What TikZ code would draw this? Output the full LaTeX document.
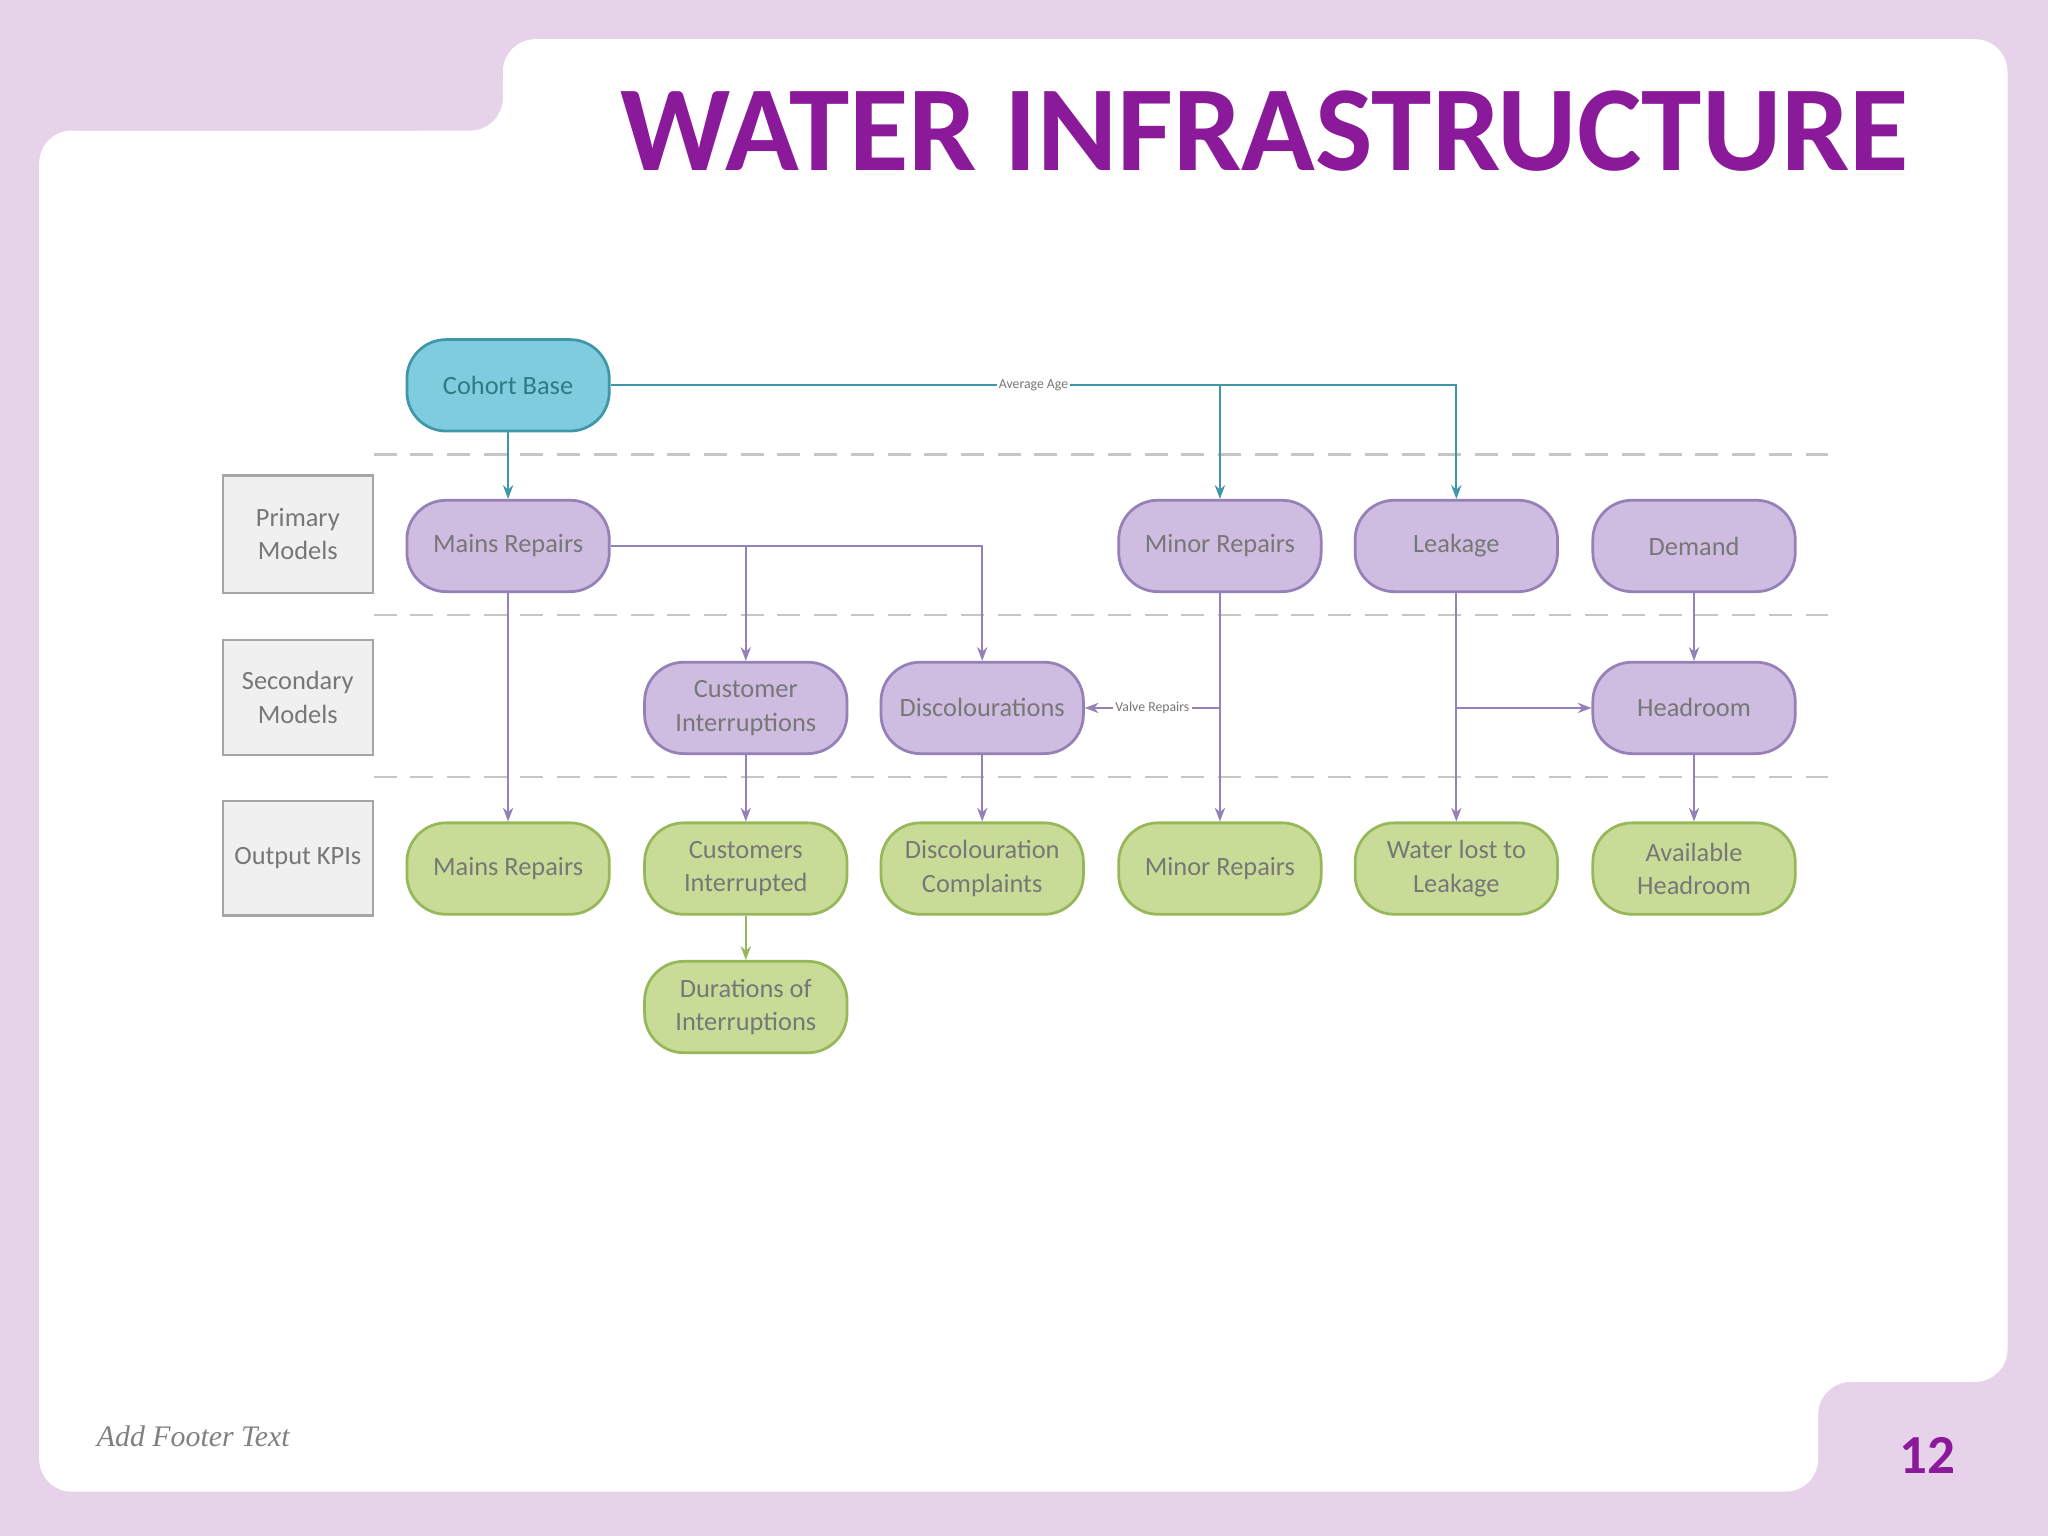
\documentclass[tikz,border=0pt]{standalone}
\usepackage{fontspec}
\setmainfont{Carlito}
\usetikzlibrary{arrows.meta,positioning}
\definecolor{lilac}{HTML}{E6D3EA}
\definecolor{titlepurple}{HTML}{8B1A9B}
\definecolor{tealfill}{HTML}{7FCCDE}
\definecolor{tealline}{HTML}{3F97A8}
\definecolor{purfill}{HTML}{CEBDE0}
\definecolor{purline}{HTML}{9580B8}
\definecolor{grnfill}{HTML}{C9DC97}
\definecolor{grnline}{HTML}{97B85A}
\definecolor{txtgray}{HTML}{777777}
\begin{document}
\begin{tikzpicture}[x=0.02cm,y=-0.02cm,
    model/.style={rectangle, rounded corners=0.6cm, draw, line width=1.2pt, minimum width=3.1cm, minimum height=1.4cm, align=center, text=txtgray, font=\fontsize{11.5}{14.5}\selectfont},
    cohort/.style={model, fill=tealfill, draw=tealline, text=tealline!80!black},
    primary/.style={model, fill=purfill, draw=purline},
    output/.style={model, fill=grnfill, draw=grnline},
    level/.style={rectangle, draw=gray!70, line width=1pt, fill=gray!12, minimum width=2.3cm, align=center, text=txtgray, font=\fontsize{11.5}{14.5}\selectfont},
    tarrow/.style={-{Stealth[length=6pt]}, tealline, line width=0.8pt},
    parrow/.style={-{Stealth[length=6pt]}, purline, line width=0.8pt},
    garrow/.style={-{Stealth[length=6pt]}, grnline, line width=0.8pt},
    sep/.style={dashed, gray!45, line width=1pt, dash pattern=on 10pt off 6pt},
    tiny/.style={font=\fontsize{6}{7}\selectfont, text=txtgray, fill=white, inner sep=1pt}
]
% slide background
\fill[lilac] (0,0) rectangle (1568,1176);
\fill[white, rounded corners=0.5cm] (30,100) -- (30,1142) -- (1392,1142) -- (1392,1058)
  -- (1537,1058) -- (1537,30) -- (385,30) -- (385,100) -- cycle;
\fill[lilac, rounded corners=0.8cm] (20,20) -- (385,20) -- (385,60) -- (355,100) -- (20,100) -- cycle;
\fill[lilac] (20,20) rectangle (385,60);
\node[anchor=east, text=titlepurple, font=\fontsize{53}{60}\selectfont\bfseries] (title) at (1468,100) {WATER INFRASTRUCTURE};
\node[anchor=west, text=gray, font=\fontsize{13}{15}\selectfont\itshape\fontspec{Liberation Serif}] (footer) at (68,1100) {Add Footer Text};
\node[text=titlepurple, font=\fontsize{24}{28}\selectfont\bfseries] (page) at (1476,1114) {12};

% level separators
\foreach \yy in {348,471,595} \draw[sep] (286,\yy) -- (1400,\yy);

% level labels
\node[level, minimum height=1.8cm] (lprim) at (228,409) {Primary\\Models};
\node[level, minimum height=1.76cm] (lsec) at (228,534) {Secondary\\Models};
\node[level, minimum height=1.76cm] (lout) at (228,657) {Output KPIs};

% models
\node[cohort] (cohort) at (389,295) {Cohort Base};
\node[primary] (mains) at (389,418) {Mains Repairs};
\node[primary] (minor) at (934,418) {Minor Repairs};
\node[primary] (leak) at (1115,418) {Leakage};
\node[primary] (demand) at (1297,418) {Demand};
\node[primary] (custint) at (571,542) {Customer\\Interruptions};
\node[primary] (discol) at (752,542) {Discolourations};
\node[primary] (head) at (1297,542) {Headroom};

% output KPIs
\node[output] (omains) at (389,665) {Mains Repairs};
\node[output] (ocust) at (571,665) {Customers\\Interrupted};
\node[output] (odisc) at (752,665) {Discolouration\\Complaints};
\node[output] (ominor) at (934,665) {Minor Repairs};
\node[output] (owater) at (1115,665) {Water lost to\\Leakage};
\node[output] (ohead) at (1297,665) {Available\\Headroom};
\node[output] (odur) at (571,771) {Durations of\\Interruptions};

% connectors
\draw[tarrow] (cohort) -- (mains);
\draw[tarrow] (cohort.east) -- node[tiny, pos=0.5] {Average Age} (leak.north |- cohort.east) -- (leak);
\draw[tarrow] (minor.north |- cohort.east) -- (minor);
\draw[parrow] (mains.east) -| (discol);
\draw[parrow] (custint.north |- mains.east) -- (custint);
\draw[parrow] (mains) -- (omains);
\draw[parrow] (minor) -- (ominor);
\draw[parrow] (minor.south |- discol.east) -- node[tiny] {Valve Repairs} (discol);
\draw[parrow] (leak) -- (owater);
\draw[parrow] (leak.south |- head.west) -- (head);
\draw[parrow] (demand) -- (head);
\draw[parrow] (head) -- (ohead);
\draw[parrow] (custint) -- (ocust);
\draw[parrow] (discol) -- (odisc);
\draw[garrow] (ocust) -- (odur);
\end{tikzpicture}
\end{document}
